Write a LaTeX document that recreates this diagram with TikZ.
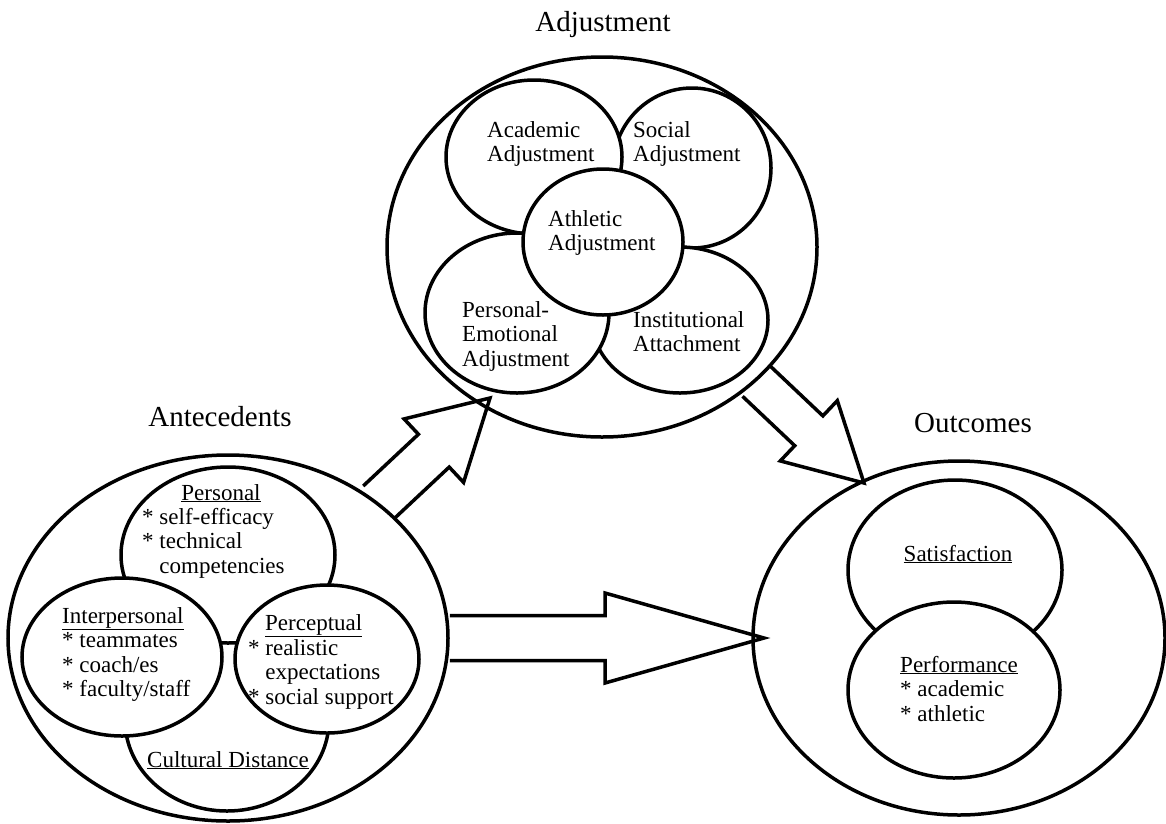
\documentclass[tikz,border=0pt]{standalone}
\usepackage{fontspec}
\setmainfont{Liberation Serif}
\usetikzlibrary{shapes.geometric,calc}

\newcommand{\bodyfont}{\fontsize{23}{24.5}\selectfont}
\newcommand{\headfont}{\fontsize{29}{32}\selectfont}

\newcommand{\fatarrow}[5]{%
  \coordinate (fa) at ($(#2)!#5!(#1)$);
  \draw[fatline] ($(#1)!#3!90:(#2)$) -- ($(fa)!#3!90:(#2)$) -- ($(fa)!#4!90:(#2)$) -- (#2)
    -- ($(fa)!#4!-90:(#2)$) -- ($(fa)!#3!-90:(#2)$) -- ($(#1)!#3!-90:(#2)$);
}

\tikzset{
  ring/.style={draw, ellipse, line width=3.5pt, inner sep=0pt, fill=white},
  fatline/.style={line width=3.5pt, line join=miter},
  bodytext/.style={inner sep=0pt, font=\bodyfont, align=left},
  headtext/.style={inner sep=0pt, font=\headfont}
}

\begin{document}
\begin{tikzpicture}[x=1pt,y=-1pt]
  \useasboundingbox (0,0) rectangle (1166,823);

  \node[ring, minimum width=440pt, minimum height=366pt] (ant) at (228,638) {};
  \node[ring, minimum width=204pt, minimum height=182pt] (cult) at (227,720) {};
  \node[ring, minimum width=214pt, minimum height=176pt] (pers) at (228,555) {};
  \node[ring, minimum width=200pt, minimum height=158pt] (inter) at (122,657) {};
  \node[ring, minimum width=184pt, minimum height=148pt] (perc) at (327,659) {};

  \node[ring, minimum width=430pt, minimum height=380pt] (adj) at (602,247) {};
  \node[ring, minimum width=158pt, minimum height=160pt] (soc) at (692,168) {};
  \node[ring, minimum width=176pt, minimum height=146pt] (inst) at (680,320) {};
  \node[ring, minimum width=176pt, minimum height=154pt] (acad) at (534,157) {};
  \node[ring, minimum width=184pt, minimum height=160pt] (emo) at (517,313) {};
  \node[ring, minimum width=160pt, minimum height=146pt] (ath) at (603,242) {};

  \node[ring, minimum width=412pt, minimum height=354pt] (out) at (959,638) {};
  \node[ring, minimum width=214pt, minimum height=180pt] (sat) at (955,570) {};
  \node[ring, minimum width=212pt, minimum height=176pt] (perf) at (954,690) {};

  \node[headtext, anchor=base] (adj-title) at (603,31) {Adjustment};
  \node[headtext, anchor=base] (ant-title) at (220,426) {Antecedents};
  \node[headtext, anchor=base] (out-title) at (973,432) {Outcomes};

  \node[bodytext, anchor=base] (pers-head) at (221,500) {\underline{Personal}};
  \node[bodytext, anchor=base west] (pers-list) at (142,573) {* self-efficacy\\* technical\\\hphantom{*} competencies};
  \node[bodytext, anchor=base west] (inter-list) at (62,696.5) {\underline{Interpersonal}\\* teammates\\* coach/es\\* faculty/staff};
  \node[bodytext, anchor=base west] (perc-head) at (265,630) {\underline{Perceptual}};
  \node[bodytext, anchor=base west] (perc-list) at (248,704) {* realistic\\\hphantom{*} expectations\\* social support};
  \node[bodytext, anchor=base] (cult-head) at (228,767) {\underline{Cultural Distance}};

  \node[bodytext, anchor=base west] (acad-text) at (487,161.5) {Academic\\Adjustment};
  \node[bodytext, anchor=base west] (soc-text) at (633,161.5) {Social\\Adjustment};
  \node[bodytext, anchor=base west] (ath-text) at (548,250.5) {Athletic\\Adjustment};
  \node[bodytext, anchor=base west] (emo-text) at (462,366) {Personal-\\Emotional\\Adjustment};
  \node[bodytext, anchor=base west] (inst-text) at (633,351.5) {Institutional\\Attachment};

  \node[bodytext, anchor=base] (sat-head) at (958,561) {\underline{Satisfaction}};
  \node[bodytext, anchor=base west] (perf-list) at (900,721) {\underline{Performance}\\* academic\\* athletic};

  \coordinate (adj-in) at (490,398);
  \coordinate (out-top) at (864,483);
  \coordinate (out-side) at (764,638);
  \fatarrow{ant.42.5}{adj-in}{22.5pt}{43.5pt}{77pt}
  \fatarrow{adj.-41}{out-top}{20.5pt}{41.5pt}{76pt}
  \fatarrow{ant.0}{out-side}{22.5pt}{45pt}{159pt}
\end{tikzpicture}
\end{document}
